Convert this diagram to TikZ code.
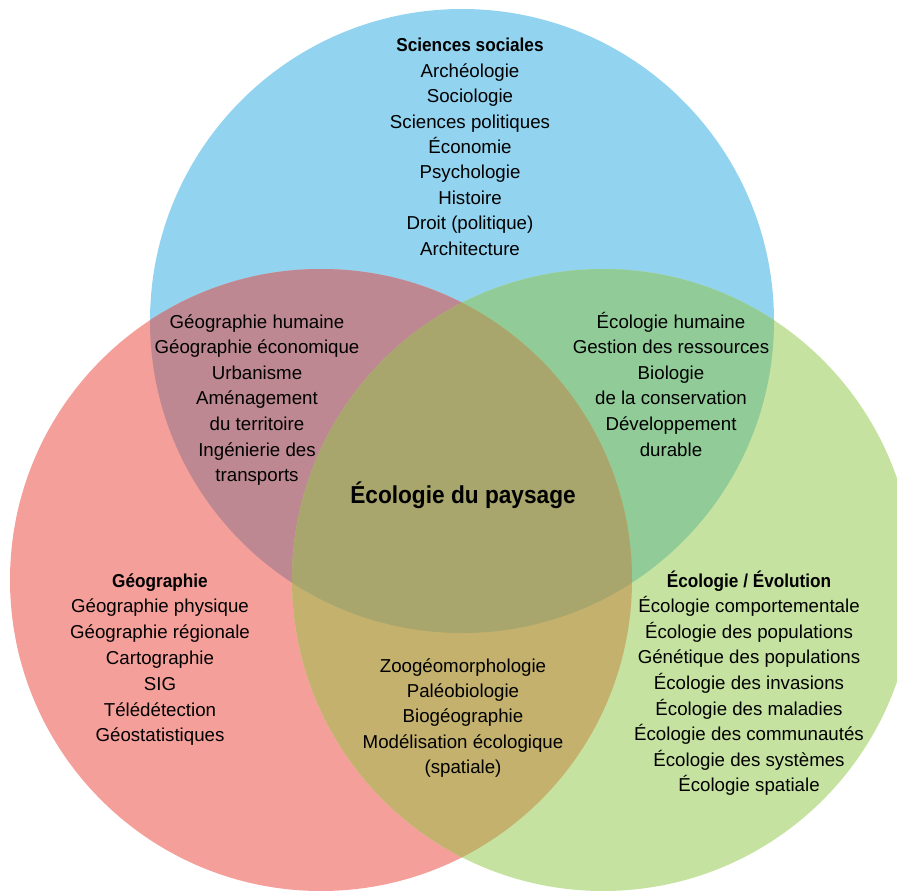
\documentclass[tikz,border=0pt]{standalone}
\usepackage{fontspec}
\setmainfont{Liberation Sans}
\usepackage{graphicx}
\definecolor{cblue}{RGB}{146,211,239}
\definecolor{cred}{RGB}{245,159,154}
\definecolor{cgreen}{RGB}{197,226,160}
\definecolor{cbr}{RGB}{189,136,145}
\definecolor{cbg}{RGB}{145,204,152}
\definecolor{crg}{RGB}{195,177,109}
\definecolor{call}{RGB}{168,166,108}
\tikzset{
  lbl/.style={anchor=base, inner sep=0pt, font=\fontsize{18.7}{22}\selectfont, text=black},
  title/.style={anchor=base, inner sep=0pt, font=\fontsize{24.5}{28}\selectfont\bfseries, text=black}
}
\newcommand{\hd}[1]{\scalebox{0.92}[1]{\bfseries #1}}
\begin{document}
\begin{tikzpicture}[x=1pt,y=-1pt]
\useasboundingbox (0,0) rectangle (897,891);
\clip (0,0) rectangle (897,891);
% circles
\fill[cblue]  (462,321) circle[radius=312pt];
\fill[cred]   (321,580) circle[radius=311pt];
\fill[cgreen] (603,580) circle[radius=311pt];
% pairwise intersections
\begin{scope}
  \clip (462,321) circle[radius=312pt];
  \fill[cbr] (321,580) circle[radius=311pt];
  \fill[cbg] (603,580) circle[radius=311pt];
\end{scope}
\begin{scope}
  \clip (321,580) circle[radius=311pt];
  \fill[crg] (603,580) circle[radius=311pt];
  \clip (603,580) circle[radius=311pt];
  \fill[call] (462,321) circle[radius=312pt];
\end{scope}
% Sciences sociales
\node[lbl] (ss0) at (470,51.7) {\hd{Sciences sociales}};
\foreach \t [count=\i] in {Archéologie, Sociologie, Sciences politiques, Économie, Psychologie, Histoire, Droit (politique), Architecture}
  \node[lbl] (ss\i) at (470,{51.7+25.45*\i}) {\t};
% blue-red
\foreach \t [count=\i from 0] in {Géographie humaine, Géographie économique, Urbanisme, Aménagement, du territoire, Ingénierie des, transports}
  \node[lbl] (br\i) at (257,{328+25.6*\i}) {\t};
% blue-green
\foreach \t [count=\i from 0] in {Écologie humaine, Gestion des ressources, Biologie, de la conservation, Développement, durable}
  \node[lbl] (bg\i) at (671,{328+25.6*\i}) {\t};
% centre
\node[title] (centre) at (463,503) {\scalebox{0.925}[1]{Écologie du paysage}};
% Géographie
\node[lbl] (ge0) at (160,587) {\hd{Géographie}};
\foreach \t [count=\i] in {Géographie physique, Géographie régionale, Cartographie, SIG, Télédétection, Géostatistiques}
  \node[lbl] (ge\i) at (160,{587+25.8*\i}) {\t};
% red-green
\foreach \t [count=\i from 0] in {Zoogéomorphologie, Paléobiologie, Biogéographie, Modélisation écologique, (spatiale)}
  \node[lbl] (rg\i) at (463,{672+25.4*\i}) {\t};
% Écologie / Évolution
\node[lbl] (ev0) at (749,587) {\hd{Écologie / Évolution}};
\foreach \t [count=\i] in {Écologie comportementale, Écologie des populations, Génétique des populations, Écologie des invasions, Écologie des maladies, Écologie des communautés, Écologie des systèmes, Écologie spatiale}
  \node[lbl] (ev\i) at (749,{587+25.6*\i}) {\t};
\end{tikzpicture}
\end{document}
